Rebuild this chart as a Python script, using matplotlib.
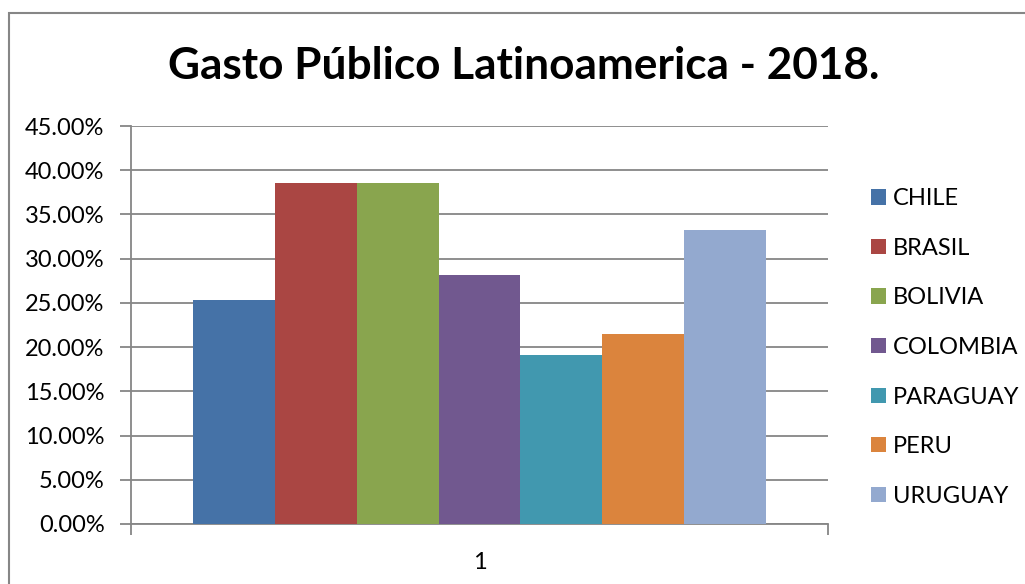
import matplotlib
matplotlib.use('Agg')
import matplotlib.pyplot as plt
from matplotlib.patches import Rectangle
from matplotlib.ticker import FuncFormatter

# Data (share of GDP, %)
paises = ['CHILE', 'BRASIL', 'BOLIVIA', 'COLOMBIA', 'PARAGUAY', 'PERU', 'URUGUAY']
gasto = [25.3, 38.6, 38.6, 28.1, 19.1, 21.5, 33.2]
colores = ['#4572A7', '#AA4643', '#89A54E', '#71588F', '#4198AF', '#DB843D', '#93A9CF']
categoria = '1'
titulo = 'Gasto Público Latinoamerica - 2018.'

plt.rcParams['font.family'] = ['Lato', 'DejaVu Sans']
gris = '#868686'

fig = plt.figure(figsize=(10.25, 5.84), dpi=100)
ax = fig.add_axes([131 / 1025, 60 / 584, 697 / 1025, 398 / 584])

# Clustered bars around the single category
ancho = 0.1175
n = len(paises)
for i, (p, v, c) in enumerate(zip(paises, gasto, colores)):
    ax.bar((i - (n - 1) / 2) * ancho, v, width=ancho, color=c, label=p, zorder=3)

ax.set_xlim(-0.5, 0.5)
ax.set_ylim(0, 45)
ax.set_yticks(range(0, 46, 5))
ax.yaxis.set_major_formatter(FuncFormatter(lambda y, _: f'{y:.2f}%'))
ax.grid(axis='y', color=gris, linewidth=1.3, zorder=0)

# Category boundary ticks and centred label
ax.set_xticks([-0.5, 0.5])
ax.set_xticklabels(['', ''])
ax.set_xticks([0], minor=True)
ax.set_xticklabels([categoria], minor=True)
ax.tick_params(axis='x', which='major', length=8, color=gris, width=1.3)
ax.tick_params(axis='x', which='minor', length=0, pad=20, labelsize=17)
ax.tick_params(axis='y', length=8, color=gris, width=1.3, pad=11, labelsize=17)

for s in ['top', 'right']:
    ax.spines[s].set_visible(False)
for s in ['left', 'bottom']:
    ax.spines[s].set_color(gris)
    ax.spines[s].set_linewidth(1.3)

ax.legend(loc='center left', bbox_to_anchor=(871 / 1025, 1 - 347.5 / 584),
          bbox_transform=fig.transFigure, frameon=False, fontsize=17,
          handlelength=0.62, handleheight=0.62, handletextpad=0.3,
          labelspacing=1.21, borderpad=0, borderaxespad=0)

fig.text(524 / 1025, 1 - 79 / 584, titulo, ha='center', va='baseline',
         fontsize=31.8, fontweight='bold')

# Outer chart frame
fig.patches.append(Rectangle((9 / 1025, -0.1), 1.2, (584 - 13) / 584 + 0.1,
                             transform=fig.transFigure, fill=False,
                             edgecolor=gris, linewidth=1.5))

fig.savefig('out.png', dpi=100)
